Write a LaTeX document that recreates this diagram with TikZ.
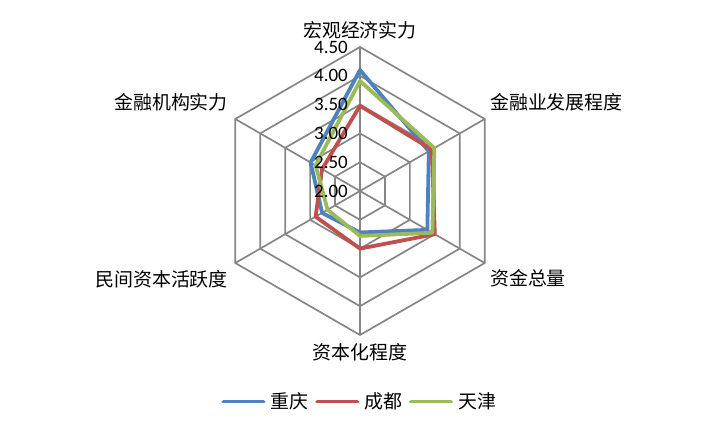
\documentclass[tikz,border=0pt]{standalone}
\usepackage{fontspec}
\setmainfont{Carlito}
\newfontfamily\cjkfont{Noto Sans CJK SC}
\usetikzlibrary{positioning}
\definecolor{gridgray}{HTML}{868686}
\definecolor{cqblue}{HTML}{4F81BD}
\definecolor{cdred}{HTML}{C0504D}
\definecolor{tjgreen}{HTML}{9BBB59}
\tikzset{
    radar/.cd,
    grid/.style={draw=gridgray,line width=1.7bp},
    series/.style={line width=3.8bp,line join=round},
    axis label/.style={font=\cjkfont\fontsize{19}{21}\selectfont,inner sep=0pt},
    tick label/.style={font=\fontsize{19}{20}\selectfont,inner sep=0pt,anchor=east},
    legend line/.style={line width=3.8bp,line cap=round},
    legend label/.style={radar/axis label,anchor=west},
}

\begin{document}
\begin{tikzpicture}[x=1bp,y=1bp]
      \useasboundingbox (-360,-241) rectangle (360,191);
      \coordinate (o) at (0,0);

      % hexagon grid, centre is 2.00, one ring per 0.50
      \foreach \r in {1,...,5} {
        \foreach[count=\i] \a in {90,30,-30,-90,-150,150} {
          \coordinate (g\r-\i) at (\a:\r*28.8);
        }
        \draw[radar/grid] (g\r-1) -- (g\r-2) -- (g\r-3) -- (g\r-4) -- (g\r-5) -- (g\r-6) -- cycle;
      }
      \foreach \i in {1,...,6} {
        \draw[radar/grid] (o) -- (g5-\i);
      }

      % axis labels
      \node[radar/axis label] (ax1) at (0,161) {宏观经济实力};
      \node[radar/axis label,anchor=west] (ax2) at (130,89) {金融业发展程度};
      \node[radar/axis label,anchor=west] (ax3) at (130,-87) {资金总量};
      \node[radar/axis label] (ax4) at (0,-161) {资本化程度};
      \node[radar/axis label,anchor=east] (ax5) at (-132,-88) {民间资本活跃度};
      \node[radar/axis label,anchor=east] (ax6) at (-132,89) {金融机构实力};

      % data points
      \foreach[count=\i] \a/\vcq/\vcd/\vtj in {90/4.10/3.48/3.91, 30/3.38/3.44/3.49,
          -30/3.35/3.50/3.45, -90/2.72/3.00/2.78, -150/2.76/2.89/2.65, 150/2.99/2.76/2.89} {
        \coordinate (cq-\i) at (\a:{(\vcq-2)*57.6});
        \coordinate (cd-\i) at (\a:{(\vcd-2)*57.6});
        \coordinate (tj-\i) at (\a:{(\vtj-2)*57.6});
      }
      \foreach \s/\col in {cq/cqblue,cd/cdred,tj/tjgreen} {
        \draw[radar/series,\col] (\s-1) -- (\s-2) -- (\s-3) -- (\s-4) -- (\s-5) -- (\s-6) -- cycle;
      }

      % scale labels on top of the series
      \foreach[count=\k from 0] \v in {2.00,2.50,3.00,3.50,4.00,4.50} {
        \node[radar/tick label] (tick\k) at (-12,\k*28.8) {\v};
      }

      % legend
      \coordinate (leg-cq-a) at (-136.5,-210.5);
      \coordinate[right=40bp of leg-cq-a] (leg-cq-b);
      \node[radar/legend label,right=7bp of leg-cq-b] (leg-cq) {重庆};
      \coordinate[right=8.5bp of leg-cq] (leg-cd-a);
      \coordinate[right=40bp of leg-cd-a] (leg-cd-b);
      \node[radar/legend label,right=7bp of leg-cd-b] (leg-cd) {成都};
      \coordinate[right=8.5bp of leg-cd] (leg-tj-a);
      \coordinate[right=40bp of leg-tj-a] (leg-tj-b);
      \node[radar/legend label,right=7bp of leg-tj-b] (leg-tj) {天津};
      \draw[radar/legend line,cqblue] (leg-cq-a) -- (leg-cq-b);
      \draw[radar/legend line,cdred] (leg-cd-a) -- (leg-cd-b);
      \draw[radar/legend line,tjgreen] (leg-tj-a) -- (leg-tj-b);
\end{tikzpicture}
\end{document}
